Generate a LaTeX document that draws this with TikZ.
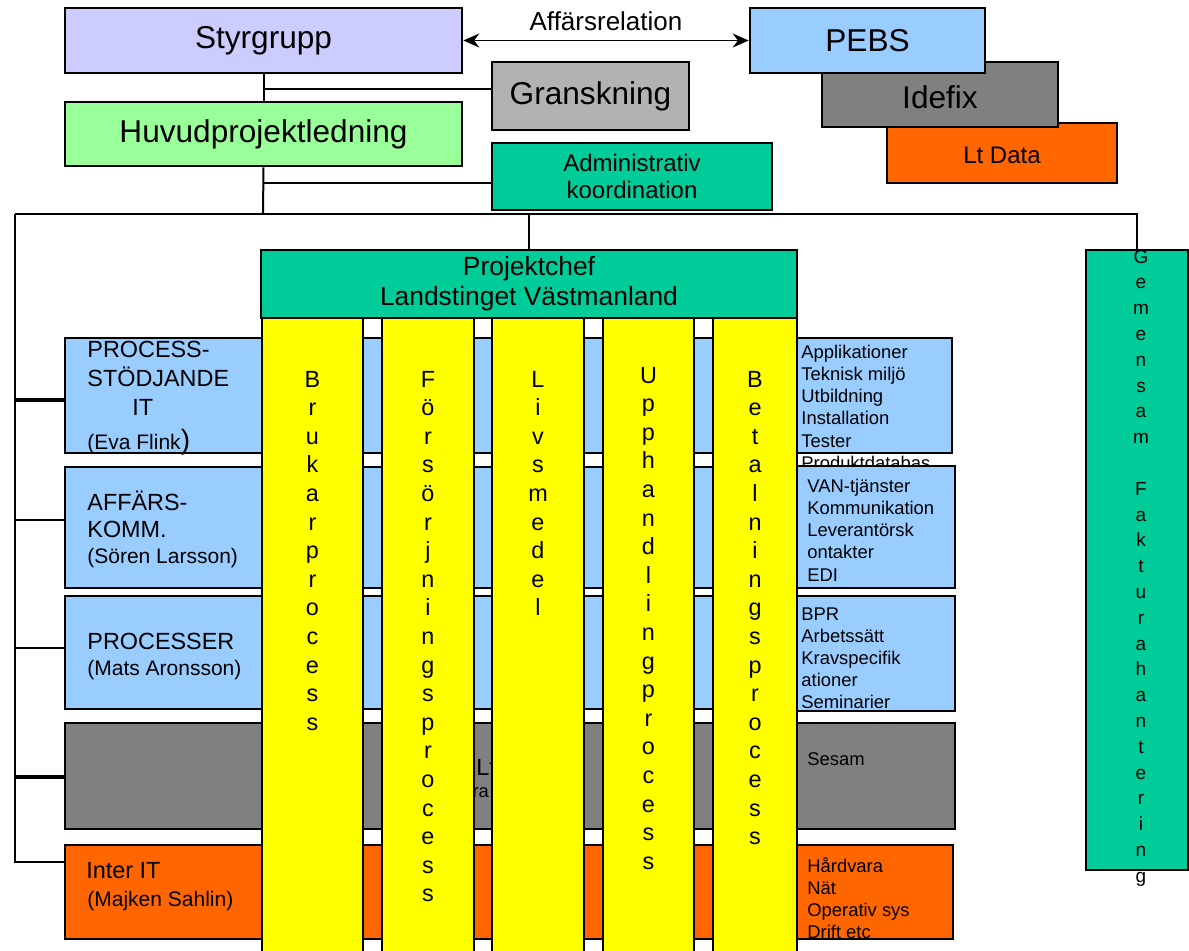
\documentclass[tikz,border=0pt]{standalone}
\usepackage{fontspec}
\setmainfont{Liberation Sans}
\usetikzlibrary{fit,arrows.meta}

\definecolor{styrblue}{HTML}{CCCCFF}
\definecolor{rowblue}{HTML}{99CCFF}
\definecolor{huvudgreen}{HTML}{99FF99}
\definecolor{granskgray}{HTML}{B2B2B2}
\definecolor{idegray}{HTML}{808080}
\definecolor{ltorange}{HTML}{FF6600}
\definecolor{pcgreen}{HTML}{00CC99}
\definecolor{colyellow}{HTML}{FFFF00}

\tikzset{
  box/.style={draw=black,line width=1.3pt,inner sep=0pt},
  conn/.style={line width=1pt},
  thickconn/.style={line width=2pt},
  big/.style={font=\fontsize{15.8}{19}\selectfont},
  mid/.style={font=\fontsize{12}{13.5}\selectfont},
  rowtxt/.style={anchor=base west,inner sep=0pt,font=\fontsize{11.7}{14}\selectfont},
  nametxt/.style={anchor=base west,inner sep=0pt,font=\fontsize{10.5}{13}\selectfont},
  listtxt/.style={anchor=base west,inner sep=0pt,font=\fontsize{9.2}{11}\selectfont},
  colletter/.style={anchor=base,inner sep=0pt,font=\fontsize{11.7}{14}\selectfont}
}

\newcommand{\vword}[5]{\foreach \ltr [count=\idx] in {#5}
  {\node[colletter] (#1-\idx) at (#2,{#3+#4*(\idx-1)}) {\ltr};}}
\newcommand{\listlines}[5]{\foreach \entry [count=\idx] in {#5}
  {\node[listtxt] (#1-\idx) at (#2,{#3+#4*(\idx-1)}) {\entry};}}

\begin{document}
\begin{tikzpicture}[x=0.5pt,y=-0.5pt]
  \useasboundingbox (0,0) rectangle (1189,950);
  \clip (0,0) rectangle (1189,950);

  \node[box,fill=ltorange,fit={(887,123) (1117,183)},
        label={[mid,yshift=-1pt]center:Lt Data}] (ltdata) {};
  \node[box,fill=idegray,fit={(822,62) (1058,127)},
        label={[big,yshift=-1.5pt]center:Idefix}] (idefix) {};
  \node[box,fill=rowblue,fit={(750,8) (985,73)},
        label={[big]center:PEBS}] (pebs) {};
  \node[box,fill=styrblue,fit={(65,8) (462,73)},
        label={[big]center:Styrgrupp}] (styr) {};
  \node[box,fill=granskgray,fit={(492,62) (689,130)},
        label={[big]center:Granskning}] (gransk) {};
  \node[box,fill=huvudgreen,fit={(65,102) (462,166)},
        label={[big]center:Huvudprojektledning}] (huvud) {};
  \node[box,fill=pcgreen,fit={(492,143) (772,210)},
        label={[mid,align=center]center:Administrativ\\koordination}] (admin) {};

  \draw[<->,>={Stealth[length=8pt,width=7pt]},line width=0.8pt] (styr.east) -- (pebs.west);
  \node[font=\fontsize{13}{15}\selectfont] (affrel) at (606,21) {Affärsrelation};

  \node[box,fill=rowblue,fit={(65,338) (797,453)}] (stod) {};
  \node[box,fill=rowblue,fit={(65,467) (797,588)}] (affk) {};
  \node[box,fill=rowblue,fit={(65,596) (797,709)}] (proc) {};
  \node[box,fill=idegray,fit={(65,723) (797,829)}] (ltrow) {};
  \node[box,fill=ltorange,fit={(65,845) (797,939)}] (inter) {};

  \node[rowtxt] (stod-a) at (87,357) {PROCESS-};
  \node[rowtxt] (stod-b) at (87,386) {STÖDJANDE};
  \node[rowtxt] (stod-c) at (132,415) {IT};
  \node[nametxt] (stod-d) at (87,449) {(Eva Flink{\fontsize{14}{14}\selectfont)}};
  \node[rowtxt] (affk-a) at (87,510) {AFFÄRS-};
  \node[rowtxt] (affk-b) at (87,537) {KOMM.};
  \node[nametxt] (affk-c) at (87,563) {(Sören Larsson)};
  \node[rowtxt] (proc-a) at (87,649) {PROCESSER};
  \node[nametxt] (proc-b) at (87,675) {(Mats Aronsson)};
  \node[rowtxt] (ltrow-a) at (476,775) {Lt};
  \node[listtxt] (ltrow-b) at (467,797) {tra};
  \node[rowtxt] (inter-a) at (86,878) {Inter IT};
  \node[nametxt] (inter-b) at (87,906) {(Majken Sahlin)};

  \node[box,fill=rowblue,fit={(797,338) (952,453)}] (stodlist) {};
  \listlines{stodlist}{801}{358}{22.3}{Applikationer,Teknisk miljö,Utbildning,Installation,Tester,Produktdatabas}
  \node[box,fill=rowblue,fit={(797,466) (955,588)}] (affklist) {};
  \listlines{affklist}{807}{492}{22.3}{VAN-tjänster,Kommunikation,Leverantörsk,ontakter,EDI}
  \node[box,fill=rowblue,fit={(797,596) (955,711)}] (proclist) {};
  \begin{scope}
    \clip (797,596) rectangle (955,709);
    \listlines{proclist}{801}{620}{22}{BPR,Arbetssätt,Kravspecifik,ationer,Seminarier}
  \end{scope}
  \node[box,fill=idegray,fit={(797,723) (955,829)}] (ltlist) {};
  \node[listtxt] (ltlist-1) at (807,765) {Sesam};
  \node[box,fill=ltorange,fit={(797,845) (953,939)}] (interlist) {};
  \begin{scope}
    \clip (797,845) rectangle (953,937);
    \listlines{interlist}{807}{872}{22.3}{Hårdvara,Nät,Operativ sys,Drift etc}
  \end{scope}

  \node[box,fill=colyellow,fit={(262,318) (363,960)}] (bruk) {};
  \node[box,fill=colyellow,fit={(382,318) (474,960)}] (forsorj) {};
  \node[box,fill=colyellow,fit={(492,318) (584,960)}] (livs) {};
  \node[box,fill=colyellow,fit={(603,318) (694,960)}] (upph) {};
  \node[box,fill=colyellow,fit={(713,318) (797,960)}] (betal) {};
  \vword{bruk}{312.5}{387}{28.6}{B,r,u,k,a,r,p,r,o,c,e,s,s}
  \vword{forsorj}{428}{387}{28.6}{F,ö,r,s,ö,r,j,n,i,n,g,s,p,r,o,c,e,s,s}
  \vword{livs}{538}{387}{28.6}{L,i,v,s,m,e,d,e,l}
  \vword{upph}{648.5}{383}{28.6}{U,p,p,h,a,n,d,l,i,n,g,p,r,o,c,e,s,s}
  \vword{betal}{755}{387}{28.6}{B,e,t,a,l,n,i,n,g,s,p,r,o,c,e,s,s}

  \node[box,fill=pcgreen,fit={(261,250) (797,318)},
        label={[align=center,font=\fontsize{13.2}{15}\selectfont]center:Projektchef\\Landstinget Västmanland}] (pc) {};

  \node[box,fill=pcgreen,fit={(1086,250) (1188,870)}] (gem) {};
  \begin{scope}[colletter/.append style={font=\fontsize{9.5}{11}\selectfont}]
    \vword{gem}{1141}{263}{25.8}{G,e,m,e,n,s,a,m,{},F,a,k,t,u,r,a,h,a,n,t,e,r,i,n,g}
  \end{scope}

  \coordinate (gtap) at (263,89);
  \coordinate (atap) at (263,183);
  \coordinate (hub) at (263,214);
  \coordinate (lbus) at (15,214);
  \coordinate (b1) at (15,400);
  \coordinate (b2) at (15,520);
  \coordinate (b3) at (15,648);
  \coordinate (b4) at (15,777);
  \coordinate (b5) at (15,862);

  \draw[conn] (styr.south) -- (huvud.north);
  \draw[conn] (gtap) -- (gtap -| gransk.west);
  \draw[conn] (huvud.south) -- (hub);
  \draw[conn] (atap) -- (atap -| admin.west);
  \draw[conn] (lbus) -- (hub -| gem.north) -- (gem.north);
  \draw[conn] (hub -| pc.north) -- (pc.north);
  \draw[conn] (lbus) -- (b5) -- (b5 -| inter.west);
  \draw[thickconn] (b1) -- (b1 -| stod.west);
  \draw[conn] (b2) -- (b2 -| affk.west);
  \draw[conn] (b3) -- (b3 -| proc.west);
  \draw[thickconn] (b4) -- (b4 -| ltrow.west);
\end{tikzpicture}
\end{document}
